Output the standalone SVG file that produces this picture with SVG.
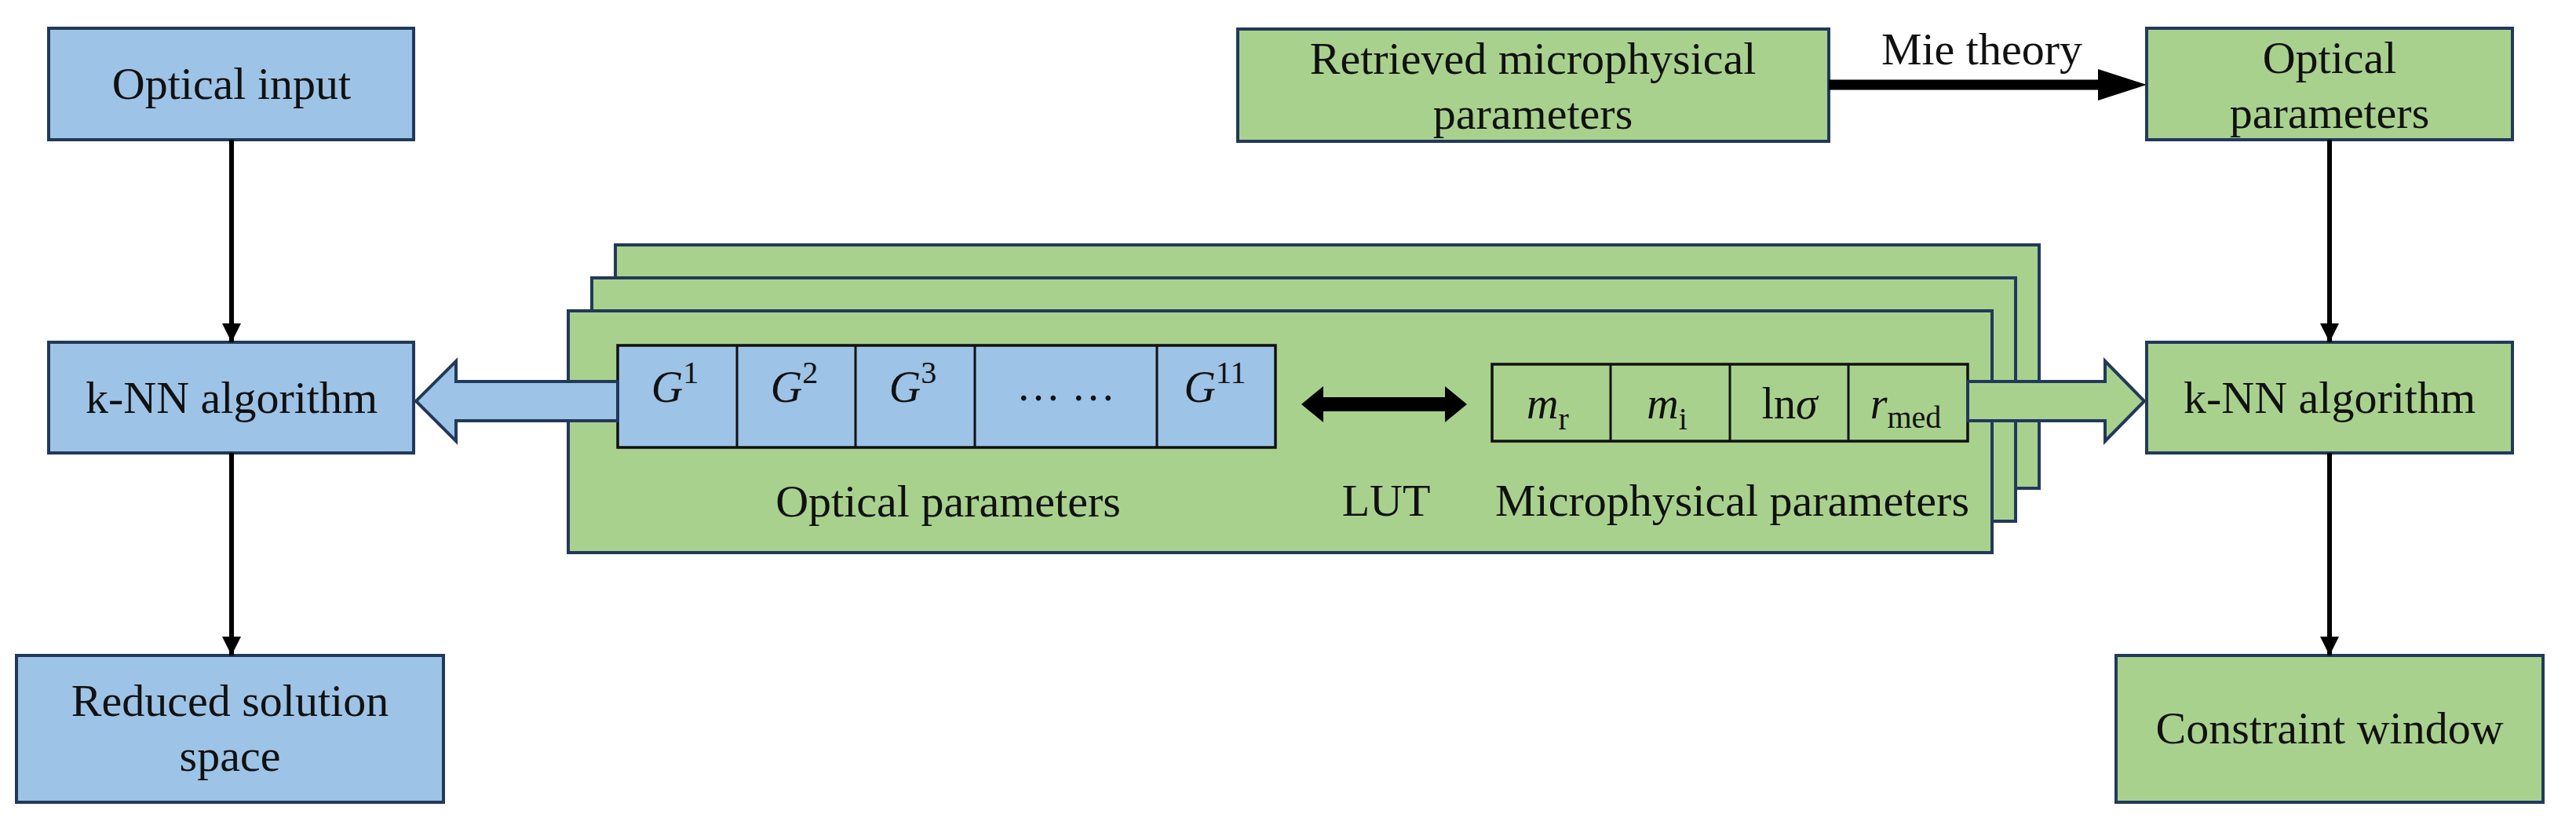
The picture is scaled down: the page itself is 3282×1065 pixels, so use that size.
<svg xmlns="http://www.w3.org/2000/svg" width="3282" height="1065" viewBox="0 0 3282 1065">
<defs>
<style>
.bg{fill:#ffffff}
.blue{fill:#9DC3E6;stroke:#22395a;stroke-width:4}
.green{fill:#A9D18E;stroke:#22395a;stroke-width:4}
.cellB{fill:#9DC3E6;stroke:#111111;stroke-width:3.5}
.cellG{fill:#A9D18E;stroke:#111111;stroke-width:3.5}
.div{stroke:#111111;stroke-width:3}
.lbl{font-family:"Liberation Serif","Times New Roman",serif;font-size:58px;fill:#111111;text-anchor:middle}
.math{font-family:"Liberation Serif","Times New Roman",serif;font-size:56px;fill:#111111;text-anchor:middle}
.it{font-style:italic}
.conn{stroke:#000000;stroke-width:6;fill:none}
.mie{stroke:#000000;stroke-width:13;fill:none}
</style>
<marker id="ah" viewBox="0 0 24 24" refX="24" refY="12" markerWidth="24" markerHeight="24" markerUnits="userSpaceOnUse" orient="auto">
<path d="M0,0 L24,12 L0,24 z" fill="#000000"/>
</marker>
<marker id="ahBig" viewBox="0 0 62 40" refX="1" refY="20" markerWidth="62" markerHeight="40" markerUnits="userSpaceOnUse" orient="auto">
<path d="M0,0 L62,20 L0,40 z" fill="#000000"/>
</marker>
</defs>
<rect class="bg" x="0" y="0" width="3282" height="1065"/>

<g id="n-optical-input">
<rect class="blue" x="62" y="36" width="465" height="142"/>
<text class="lbl" x="295" y="126">Optical input</text>
</g>

<g id="n-knn-left">
<rect class="blue" x="62" y="436" width="465" height="141"/>
<text class="lbl" x="295" y="526">k-NN algorithm</text>
</g>

<g id="n-reduced">
<rect class="blue" x="21" y="835" width="544" height="187"/>
<text class="lbl" x="293" y="912">Reduced solution</text>
<text class="lbl" x="293" y="982">space</text>
</g>

<g id="n-retrieved">
<rect class="green" x="1577" y="37" width="753" height="143"/>
<text class="lbl" x="1953" y="94">Retrieved microphysical</text>
<text class="lbl" x="1953" y="164">parameters</text>
</g>

<g id="n-optical-params">
<rect class="green" x="2735" y="36" width="466" height="142"/>
<text class="lbl" x="2968" y="93">Optical</text>
<text class="lbl" x="2968" y="163">parameters</text>
</g>

<g id="n-knn-right">
<rect class="green" x="2735" y="436" width="466" height="141"/>
<text class="lbl" x="2968" y="526">k-NN algorithm</text>
</g>

<g id="n-constraint">
<rect class="green" x="2696" y="835" width="544" height="187"/>
<text class="lbl" x="2968" y="947">Constraint window</text>
</g>

<g id="n-lut">
<rect class="green" x="784" y="312" width="1814" height="310"/>
<rect class="green" x="754" y="354" width="1814" height="310"/>
<rect class="green" x="724" y="396" width="1814" height="308"/>
<g id="n-optical-cells">
<rect class="cellB" x="787" y="440" width="838" height="130"/>
<line class="div" x1="939" y1="440" x2="939" y2="570"/>
<line class="div" x1="1090" y1="440" x2="1090" y2="570"/>
<line class="div" x1="1242" y1="440" x2="1242" y2="570"/>
<line class="div" x1="1474" y1="440" x2="1474" y2="570"/>
<text class="math" x="860" y="512"><tspan class="it">G</tspan><tspan font-size="40" dy="-24">1</tspan></text>
<text class="math" x="1012" y="512"><tspan class="it">G</tspan><tspan font-size="40" dy="-24">2</tspan></text>
<text class="math" x="1163" y="512"><tspan class="it">G</tspan><tspan font-size="40" dy="-24">3</tspan></text>
<text class="math" x="1358" y="510">… …</text>
<text class="math" x="1548" y="512"><tspan class="it">G</tspan><tspan font-size="40" dy="-24">11</tspan></text>
</g>
<g id="n-micro-cells">
<rect class="cellG" x="1901" y="464" width="606" height="98"/>
<line class="div" x1="2052" y1="464" x2="2052" y2="562"/>
<line class="div" x1="2204" y1="464" x2="2204" y2="562"/>
<line class="div" x1="2355" y1="464" x2="2355" y2="562"/>
<text class="math" x="1972" y="533"><tspan class="it">m</tspan><tspan font-size="40" dy="14">r</tspan></text>
<text class="math" x="2124" y="533"><tspan class="it">m</tspan><tspan font-size="40" dy="14">i</tspan></text>
<text class="math" x="2280" y="533">ln<tspan class="it">σ</tspan></text>
<text class="math" x="2428" y="533"><tspan class="it">r</tspan><tspan font-size="40" dy="12">med</tspan></text>
</g>
<text class="lbl" x="1208" y="658">Optical parameters</text>
<text class="lbl" x="1766" y="657">LUT</text>
<text class="lbl" x="2207" y="657">Microphysical parameters</text>
</g>

<g id="connectors">
<line class="conn" x1="295" y1="178" x2="295" y2="436" marker-end="url(#ah)"/>
<line class="conn" x1="295" y1="577" x2="295" y2="835" marker-end="url(#ah)"/>
<line class="conn" x1="2968" y1="178" x2="2968" y2="436" marker-end="url(#ah)"/>
<line class="conn" x1="2968" y1="577" x2="2968" y2="835" marker-end="url(#ah)"/>
<line class="mie" x1="2330" y1="108" x2="2674" y2="108" marker-end="url(#ahBig)"/>
<text class="lbl" x="2525" y="82">Mie theory</text>
<polygon class="blue" stroke-width="3" points="787,486 581,486 581,460 530,511 581,562 581,536 787,536"/>
<polygon class="green" stroke-width="3" points="2507,486 2682,486 2682,460 2732,511 2682,562 2682,536 2507,536"/>
<polygon fill="#000000" points="1658,515 1686,492 1686,506 1841,506 1841,492 1869,515 1841,538 1841,524 1686,524 1686,538"/>
</g>
</svg>
